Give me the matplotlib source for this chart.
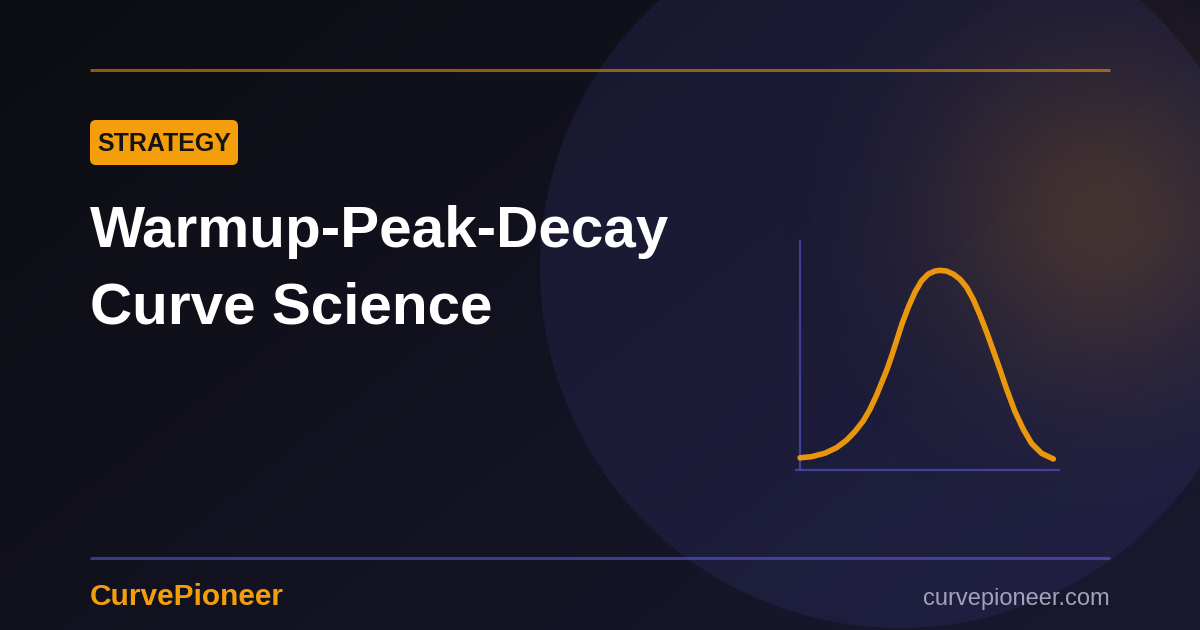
import numpy as np
import matplotlib
matplotlib.use("Agg")
import matplotlib.pyplot as plt
from matplotlib.patches import Circle, FancyBboxPatch

# text
badge_label = "STRATEGY"
title_lines = ["Warmup-Peak-Decay", "Curve Science"]
brand = "CurvePioneer"
site = "curvepioneer.com"

# curve (training progress %, intensity %)
step = [1.9, 6.3, 11.3, 15.7, 19.5, 22.6, 25.8, 28.3, 30.8, 32.7, 34.7, 36.4,
        38.1, 40.3, 42.8, 45.3, 47.8, 50.3, 52.8, 54.7, 57.2, 59.7, 62.3, 64.8,
        67.3, 69.8, 72.3, 74.8, 77.4, 79.9, 83.0, 86.2, 89.3, 93.1, 97.5]
intensity = [5.3, 5.8, 7.3, 9.7, 13.0, 16.7, 21.4, 26.4, 32.6, 38.0, 43.7, 49.3,
             55.4, 63.3, 70.9, 77.4, 82.3, 85.2, 86.5, 86.8, 86.5, 85.2, 82.9, 79.4,
             74.1, 67.4, 60.0, 52.0, 43.5, 35.0, 25.4, 17.6, 11.5, 7.2, 4.8]

ORANGE = "#f59e0b"
INDIGO = "#6366f1"
W, H = 1200, 630

plt.rcParams["font.family"] = ["Liberation Sans", "DejaVu Sans"]

fig = plt.figure(figsize=(12, 6.3), dpi=100)
bg = fig.add_axes([0, 0, 1, 1])
bg.set_xlim(0, W)
bg.set_ylim(H, 0)
bg.axis("off")

# diagonal background gradient
yy, xx = np.mgrid[0:H, 0:W]
t = np.clip(0.6 * xx / W + 0.4 * yy / H, 0, 1)[..., None]
c0 = np.array([12, 13, 18]) / 255
c1 = np.array([26, 24, 48]) / 255
bg.imshow(c0 + t * (c1 - c0), extent=[0, W, H, 0], zorder=0, aspect="auto")

# big soft circle
bg.add_patch(Circle((900, 268), 360, color=INDIGO, alpha=0.1, lw=0, zorder=1))

# orange glow
d2 = (xx - 1100) ** 2 + (yy - 215) ** 2
glow = np.zeros((H, W, 4))
glow[..., :3] = np.array([245, 158, 11]) / 255
glow[..., 3] = 0.18 * np.exp(-d2 / (2 * 115 ** 2))
bg.imshow(glow, extent=[0, W, H, 0], zorder=2, aspect="auto")

# rules
bg.plot([90, 1110], [70, 70], color=ORANGE, alpha=0.55, lw=2.2, zorder=3,
        solid_capstyle="butt")
bg.plot([90, 1110], [558, 558], color=INDIGO, alpha=0.5, lw=2.2, zorder=3,
        solid_capstyle="butt")

# badge
bg.add_patch(FancyBboxPatch((90, 120), 148, 45,
                            boxstyle="round,pad=0,rounding_size=6",
                            fc=ORANGE, ec="none", zorder=4))
bg.text(164, 151, badge_label, ha="center", va="baseline", fontsize=18,
        fontweight="bold", color="#141414", zorder=5)

# title
bg.text(90, 247, title_lines[0], ha="left", va="baseline", fontsize=42,
        fontweight="bold", color="white", zorder=5)
bg.text(90, 324, title_lines[1], ha="left", va="baseline", fontsize=42,
        fontweight="bold", color="white", zorder=5)

# footer
bg.text(90, 605, brand, ha="left", va="baseline", fontsize=21.5,
        fontweight="bold", color=ORANGE, zorder=5)
bg.text(1110, 605, site, ha="right", va="baseline", fontsize=17,
        color="#a3a3b8", zorder=5)

# small chart
ax = fig.add_axes([795 / W, (H - 470) / H, 265 / W, 230 / H])
ax.set_xlim(0, 100)
ax.set_ylim(0, 100)
ax.axis("off")
ax.patch.set_alpha(0)
ax.plot([1.9, 1.9], [0, 100], color=INDIGO, alpha=0.5, lw=1.6,
        solid_capstyle="butt", clip_on=False)
ax.plot([0, 100], [0, 0], color=INDIGO, alpha=0.5, lw=1.6,
        solid_capstyle="butt", clip_on=False)
ax.plot(step, intensity, color=ORANGE, lw=4, alpha=0.95,
        solid_capstyle="round", solid_joinstyle="round", clip_on=False)

fig.savefig("out.png", dpi=100, facecolor=fig.get_facecolor())
